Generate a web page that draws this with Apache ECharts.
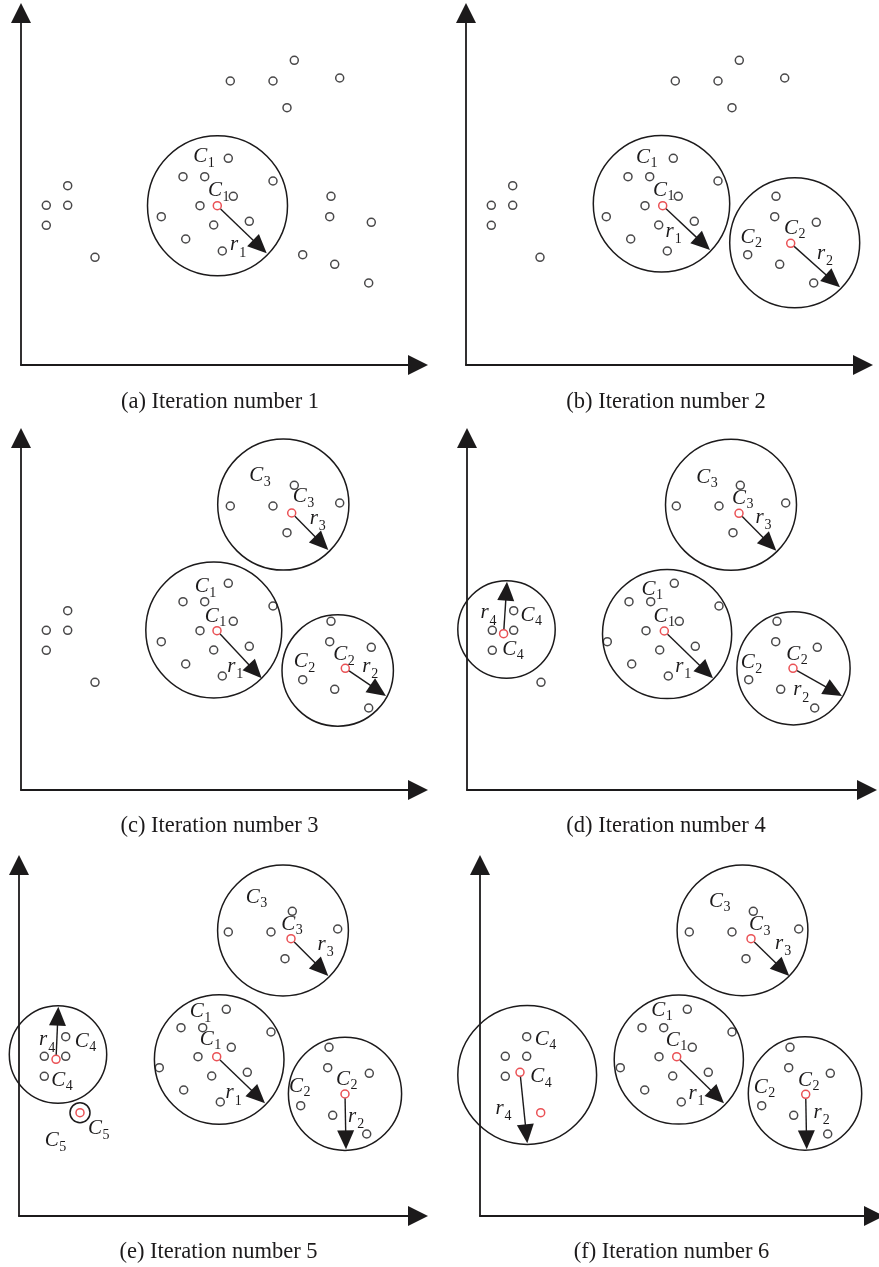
<!DOCTYPE html>
<html>
<head>
<meta charset="utf-8">
<script src="https://cdn.jsdelivr.net/npm/echarts@6/dist/echarts.min.js"></script>
<style>
  html, body { margin: 0; padding: 0; background: #ffffff; }
  #main { width: 879px; height: 1267px; }
</style>
</head>
<body>
<div id="main"></div>
<script>
// Sample points shared by every iteration: [x, y]
const points = [
  [209.3, 284], [252, 284], [273.3, 304.7], [318.7, 287], [266, 257.3],
  [207.3, 206.7], [162, 188.3], [183.7, 188.3], [252, 184], [212.3, 168.7], [179, 159.3],
  [140.3, 148.3], [228.3, 143.7], [192.7, 140], [164.7, 126], [201.3, 114],
  [46.7, 179.3], [25.3, 159.7], [46.7, 159.7], [25.3, 139.7],
  [310, 168.7], [308.7, 148.3], [350.3, 142.7], [281.7, 110.3], [313.7, 100.7], [347.7, 82]
];
// Isolated point, still unassigned in iterations 1-4
const outlier = [[74, 107.7]];

// Cluster boundaries per iteration: [cx, cy, radius]
const circlesA = [[196.5, 159.3, 70]];
const circlesB = [[195.5, 161.2, 68.2], [328.7, 122.2, 65]];
const circlesC = [[262.3, 285.5, 65.6], [192.8, 160, 68], [316.7, 119.5, 55.7]];
const circlesD = [[264, 285.2, 65.5], [200.1, 156, 64.6], [326.5, 121.7, 56.6], [39.5, 160.5, 48.7]];
const circlesE = [[264, 285.5, 65.4], [200.2, 156.5, 64.8], [326, 122.2, 56.6], [39, 161.5, 48.7], [61, 103.3, 10]];
const circlesF = [[262.5, 285.7, 65.4], [198.8, 156.5, 64.6], [325, 122.5, 56.7], [47.2, 141, 69.4]];

// Cluster centres per iteration: [x, y]
const centroidsA = [[196.3, 159.3]];
const centroidsB = [[196.7, 159.3], [324.7, 121.7]];
const centroidsC = [[270.7, 277], [196, 159.3], [324.3, 121.7]];
const centroidsD = [[272, 276.7], [197.3, 159], [326, 121.7], [36.6, 156.3]];
const centroidsE = [[272, 277.3], [197.7, 159.3], [326, 122], [37, 156.7], [61, 103.3]];
const centroidsF = [[271, 277.3], [196.7, 159.3], [325.7, 121.7], [40, 143.7], [60.7, 103.3]];

// Radius arrows per iteration: [x1, y1, x2, y2]
const arrowsA = [[196.3, 159.3, 245.7, 111.7]];
const arrowsB = [[196.7, 159.3, 244, 115], [324.7, 121.7, 374, 77.7]];
const arrowsC = [[270.7, 277, 307.3, 240], [196, 159.3, 240.7, 111.7], [324.3, 121.7, 365, 94]];
const arrowsD = [[272, 276.7, 309.3, 239.3], [197.3, 159, 246, 111.7], [326, 121.7, 375, 94], [36.6, 156.3, 40, 208.3]];
const arrowsE = [[272, 277.3, 309.3, 240], [197.7, 159.3, 246, 112.7], [326, 122, 327, 66.7], [37, 156.7, 39.3, 209.3]];
const arrowsF = [[271, 277.3, 309.3, 240], [196.7, 159.3, 244, 112.7], [325.7, 121.7, 326.7, 66.7], [40, 143.7, 47.3, 72.7]];

// Symbol labels per iteration: [x, y, letter, subscript]
const labelsA = [
  [179.3, 208.5, 'C', '1'], [194, 174.3, 'C', '1'], [213.2, 118.3, 'r', '1']
];
const labelsB = [
  [177, 208, 'C', '1'], [194, 175, 'C', '1'], [203.7, 132, 'r', '1'],
  [281.5, 128, 'C', '2'], [325, 136.7, 'C', '2'], [355, 110, 'r', '2']
];
const labelsC = [
  [235.3, 314.5, 'C', '3'], [278.7, 293.3, 'C', '3'], [292.8, 270, 'r', '3'],
  [180.7, 203.3, 'C', '1'], [190.7, 174, 'C', '1'], [210.3, 122, 'r', '1'],
  [279.7, 128.3, 'C', '2'], [319.3, 135.3, 'C', '2'], [345.3, 122, 'r', '2']
];
const labelsD = [
  [236.3, 313, 'C', '3'], [272, 291.7, 'C', '3'], [292.5, 270.8, 'r', '3'],
  [181.6, 200.7, 'C', '1'], [193.6, 174, 'C', '1'], [212.3, 122, 'r', '1'],
  [280.8, 127.3, 'C', '2'], [326.3, 136, 'C', '2'], [330.3, 98.3, 'r', '2'],
  [60.6, 175, 'C', '4'], [42.3, 140.7, 'C', '4'], [17.5, 175.3, 'r', '4']
];
const labelsE = [
  [233.7, 319, 'C', '3'], [269.3, 292, 'C', '3'], [302.7, 269.8, 'r', '3'],
  [177.7, 204.3, 'C', '1'], [187.7, 176.7, 'C', '1'], [210.7, 121.3, 'r', '1'],
  [277, 129.7, 'C', '2'], [324, 136.7, 'C', '2'], [333.2, 97.7, 'r', '2'],
  [62.7, 174.7, 'C', '4'], [39.3, 136, 'C', '4'], [24.2, 174.3, 'r', '4'],
  [76, 87.2, 'C', '5'], [32.7, 75.3, 'C', '5']
];
const labelsF = [
  [236, 314.8, 'C', '3'], [276, 291.5, 'C', '3'], [299.2, 270.7, 'r', '3'],
  [178.3, 206, 'C', '1'], [192.7, 176, 'C', '1'], [212.5, 120.7, 'r', '1'],
  [280.7, 128.7, 'C', '2'], [325, 136, 'C', '2'], [337.7, 102, 'r', '2'],
  [61.7, 176.8, 'C', '4'], [57.3, 139.3, 'C', '4'], [19.5, 106, 'r', '4']
];

const captions = [
  '(a) Iteration number 1', '(b) Iteration number 2', '(c) Iteration number 3',
  '(d) Iteration number 4', '(e) Iteration number 5', '(f) Iteration number 6'
];

// ---- layout (pixels): one grid per iteration, 1 data unit = 1 px ----
const GRIDS = [
  { left: 21,  top: 13,  width: 397, height: 352 },
  { left: 466, top: 13,  width: 397, height: 352 },
  { left: 21,  top: 438, width: 397, height: 352 },
  { left: 467, top: 438, width: 400, height: 352 },
  { left: 19,  top: 865, width: 399, height: 351 },
  { left: 480, top: 865, width: 394, height: 351 }
];
const CAPTION_POS = [[220, 402], [666, 402], [219.5, 826], [666, 826.5], [218.5, 1252.5], [671.5, 1252.5]];

const INK = '#1c1a1b';
const RED = '#e5262b';
const SERIF = '"Liberation Serif", "Times New Roman", serif';

const panels = [
  { circles: circlesA, centroids: centroidsA, arrows: arrowsA, labels: labelsA, extra: outlier },
  { circles: circlesB, centroids: centroidsB, arrows: arrowsB, labels: labelsB, extra: outlier },
  { circles: circlesC, centroids: centroidsC, arrows: arrowsC, labels: labelsC, extra: outlier },
  { circles: circlesD, centroids: centroidsD, arrows: arrowsD, labels: labelsD, extra: outlier },
  { circles: circlesE, centroids: centroidsE, arrows: arrowsE, labels: labelsE, extra: [] },
  { circles: circlesF, centroids: centroidsF, arrows: arrowsF, labels: labelsF, extra: [] }
];

function circleRenderer(list) {
  return function (params, api) {
    const c = list[params.dataIndex];
    const p = api.coord([c[0], c[1]]);
    const s = api.size([c[2], c[2]]);
    return {
      type: 'circle',
      shape: { cx: p[0], cy: p[1], r: s[0] },
      style: { fill: 'none', stroke: INK, lineWidth: 1.5 }
    };
  };
}

function arrowRenderer(list) {
  return function (params, api) {
    const a = list[params.dataIndex];
    const p1 = api.coord([a[0], a[1]]);
    const p2 = api.coord([a[2], a[3]]);
    const dx = p2[0] - p1[0], dy = p2[1] - p1[1];
    const len = Math.sqrt(dx * dx + dy * dy);
    const ux = dx / len, uy = dy / len;
    const HEAD = 19, HALF = 8.5, GAP = 4.6;
    const bx = p2[0] - ux * HEAD, by = p2[1] - uy * HEAD;
    return {
      type: 'group',
      children: [
        {
          type: 'line',
          shape: { x1: p1[0] + ux * GAP, y1: p1[1] + uy * GAP, x2: bx + ux * 2, y2: by + uy * 2 },
          style: { stroke: INK, lineWidth: 1.4 }
        },
        {
          type: 'polygon',
          shape: { points: [[p2[0], p2[1]], [bx - uy * HALF, by + ux * HALF], [bx + uy * HALF, by - ux * HALF]] },
          style: { fill: INK }
        }
      ]
    };
  };
}

function labelRenderer(list) {
  return function (params, api) {
    const l = list[params.dataIndex];
    const p = api.coord([l[0], l[1]]);
    const isR = l[2] === 'r';
    return {
      type: 'group',
      children: [
        {
          type: 'text', x: p[0], y: p[1] - (isR ? 2 : 0),
          style: {
            text: l[2], font: 'italic 21px ' + SERIF, fill: INK,
            align: 'center', verticalAlign: 'middle', textAlign: 'center', textVerticalAlign: 'middle'
          }
        },
        {
          type: 'text', x: p[0] + (isR ? 5 : 7.5), y: p[1] + 6.5,
          style: {
            text: l[3], font: '14px ' + SERIF, fill: INK,
            align: 'left', verticalAlign: 'middle', textAlign: 'left', textVerticalAlign: 'middle'
          }
        }
      ]
    };
  };
}

const axisLine = {
  show: true, onZero: false,
  symbol: ['none', 'triangle'], symbolSize: [20, 20],
  lineStyle: { color: INK, width: 1.8 }
};

const option = {
  animation: false,
  backgroundColor: '#ffffff',
  grid: GRIDS.map(g => Object.assign({ containLabel: false }, g)),
  xAxis: GRIDS.map((g, i) => ({
    type: 'value', gridIndex: i, min: 0, max: g.width,
    axisLine: axisLine, axisTick: { show: false }, axisLabel: { show: false }, splitLine: { show: false }
  })),
  yAxis: GRIDS.map((g, i) => ({
    type: 'value', gridIndex: i, min: 0, max: g.height,
    axisLine: axisLine, axisTick: { show: false }, axisLabel: { show: false }, splitLine: { show: false }
  })),
  graphic: captions.map((t, i) => ({
    type: 'text', x: CAPTION_POS[i][0], y: CAPTION_POS[i][1], silent: true,
    style: {
      text: t, font: '22.5px ' + SERIF, fill: INK,
      align: 'center', verticalAlign: 'middle', textAlign: 'center', textVerticalAlign: 'middle'
    }
  })),
  series: []
};

panels.forEach((pn, i) => {
  const common = { xAxisIndex: i, yAxisIndex: i, silent: true, emphasis: { disabled: true } };
  option.series.push(Object.assign({
    type: 'custom', clip: false, z: 2,
    data: pn.circles.map(c => [c[0], c[1], c[2]]),
    renderItem: circleRenderer(pn.circles)
  }, common));
  option.series.push(Object.assign({
    type: 'scatter', clip: false, z: 3,
    data: points.concat(pn.extra),
    symbol: 'circle', symbolSize: 8,
    itemStyle: { color: 'rgba(0,0,0,0)', borderColor: INK, borderWidth: 1.5 }
  }, common));
  option.series.push(Object.assign({
    type: 'scatter', clip: false, z: 4,
    data: pn.centroids,
    symbol: 'circle', symbolSize: 8,
    itemStyle: { color: 'rgba(0,0,0,0)', borderColor: RED, borderWidth: 1.5 }
  }, common));
  option.series.push(Object.assign({
    type: 'custom', clip: false, z: 5,
    data: pn.arrows.map(a => [a[0], a[1], a[2], a[3]]),
    renderItem: arrowRenderer(pn.arrows)
  }, common));
  option.series.push(Object.assign({
    type: 'custom', clip: false, z: 6,
    data: pn.labels.map(l => [l[0], l[1]]),
    renderItem: labelRenderer(pn.labels)
  }, common));
});

const chart = echarts.init(document.getElementById('main'), null, { renderer: 'canvas' });
chart.setOption(option);
</script>
</body>
</html>
